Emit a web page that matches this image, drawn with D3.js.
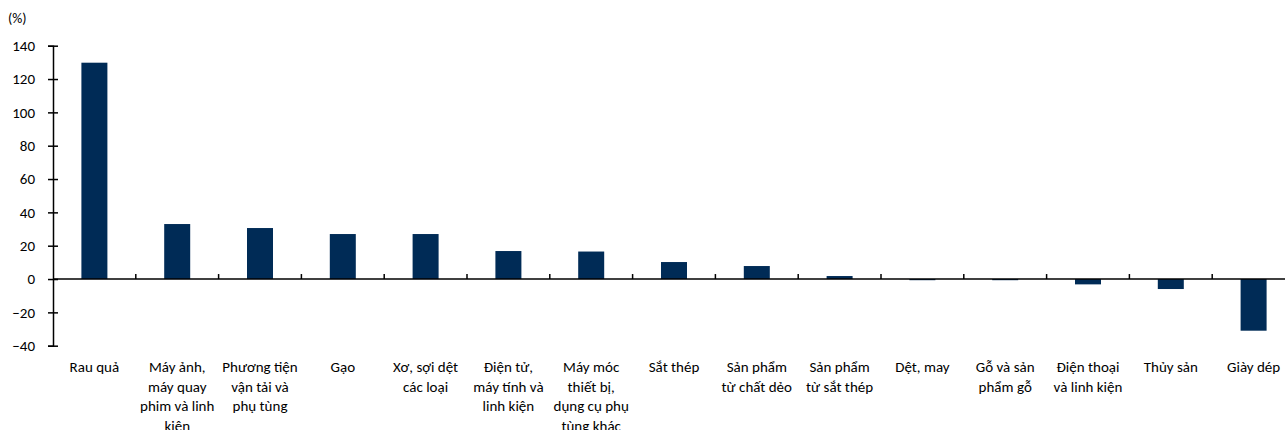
<!DOCTYPE html>
<html>
<head>
<meta charset="utf-8">
<script src="https://d3js.org/d3.v7.min.js"></script>
<style>
  body { margin: 0; background: #fff; }
  text { font-family: Carlito, Calibri, Lato, "Liberation Sans", Arial, sans-serif; font-size: 15px; fill: #000; }
</style>
</head>
<body>
<svg id="chart" width="1285" height="430"></svg>
<script>
// categories (each label split into its printed lines)
const labels = [
  ["Rau quả"],
  ["Máy ảnh,", "máy quay", "phim và linh", "kiện"],
  ["Phương tiện", "vận tải và", "phụ tùng"],
  ["Gạo"],
  ["Xơ, sợi dệt", "các loại"],
  ["Điện tử,", "máy tính và", "linh kiện"],
  ["Máy móc", "thiết bị,", "dụng cụ phụ", "tùng khác"],
  ["Sắt thép"],
  ["Sản phẩm", "từ chất dẻo"],
  ["Sản phẩm", "từ sắt thép"],
  ["Dệt, may"],
  ["Gỗ và sản", "phẩm gỗ"],
  ["Điện thoại", "và linh kiện"],
  ["Thủy sản"],
  ["Giày dép"]
];
const categories = labels.map(l => l.join(" "));
// growth (%)
const values = [129.8, 33, 30.6, 27, 27, 16.8, 16.5, 10.2, 7.8, 1.8, -0.7, -0.7, -3.2, -6, -31];
const yTicks = [-40, -20, 0, 20, 40, 60, 80, 100, 120, 140];

const svg = d3.select("#chart");
const plotLeft = 53, plotRight = 1295, plotTop = 45.7, plotBottom = 345.7;

const x = d3.scaleBand().domain(categories).range([plotLeft, plotRight])
  .paddingInner(0.686).paddingOuter(0.343);
const y = d3.scaleLinear().domain([-40, 140]).range([plotBottom, plotTop]);

// bars
svg.append("g").selectAll("rect")
  .data(categories)
  .join("rect")
  .attr("x", d => x(d))
  .attr("width", x.bandwidth())
  .attr("y", (d, i) => y(Math.max(0, values[i])))
  .attr("height", (d, i) => Math.abs(y(values[i]) - y(0)))
  .attr("fill", "#002b56");

// y axis
const yAxis = svg.append("g")
  .attr("transform", `translate(${plotLeft},0)`)
  .call(d3.axisLeft(y).tickValues(yTicks).tickSize(5).tickPadding(13));
yAxis.select(".domain").attr("stroke", "#000").attr("stroke-width", 1.5);
yAxis.selectAll(".tick line").attr("x1", 5).attr("x2", -5).attr("stroke-width", 1.5);
yAxis.selectAll(".tick text").style("font-size", "15px").attr("font-family", null);

svg.append("text").attr("x", 8).attr("y", 23).style("font-size", "14px").text("(%)");

// zero line with category separators
const gap = (x.step() - x.bandwidth()) / 2;
svg.append("line")
  .attr("x1", plotLeft).attr("x2", plotRight)
  .attr("y1", y(0)).attr("y2", y(0))
  .attr("stroke", "#000").attr("stroke-width", 1.5);
svg.append("g").selectAll("line")
  .data(categories.slice(1))
  .join("line")
  .attr("x1", d => x(d) - gap)
  .attr("x2", d => x(d) - gap)
  .attr("y1", y(0)).attr("y2", y(0) - 5)
  .attr("stroke", "#000").attr("stroke-width", 1.5);

// category labels
const lbl = svg.append("g").selectAll("text")
  .data(labels)
  .join("text")
  .attr("text-anchor", "middle")
  .attr("transform", (d, i) => `translate(${x(categories[i]) + x.bandwidth() / 2},372)`);
lbl.selectAll("tspan")
  .data(d => d)
  .join("tspan")
  .attr("x", 0)
  .attr("y", (d, j) => j * 19.6)
  .text(d => d);
</script>
</body>
</html>
